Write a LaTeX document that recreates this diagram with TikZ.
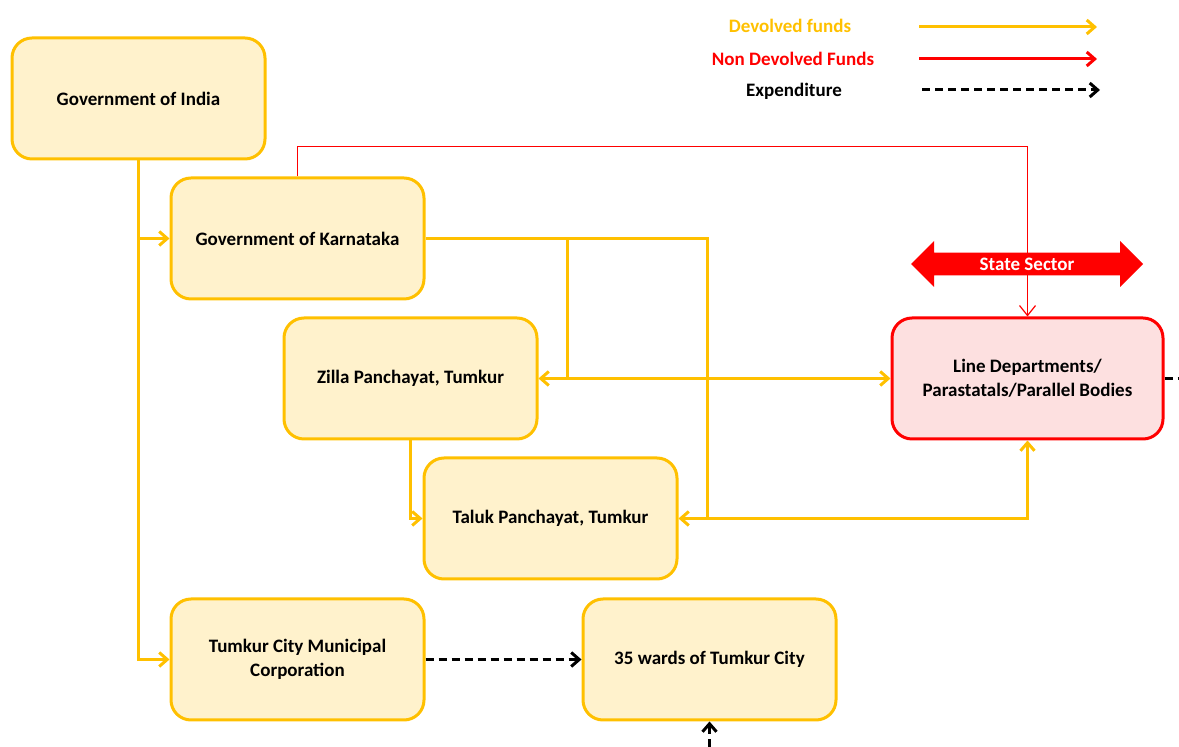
\documentclass[tikz,border=0pt]{standalone}
\usepackage{fontspec}
\setmainfont{Carlito}
\usetikzlibrary{arrows.meta}
\usetikzlibrary{shapes.arrows}
\definecolor{fundorange}{HTML}{FFC000}
\definecolor{boxfill}{HTML}{FFF2CC}
\definecolor{deptfill}{HTML}{FDE0E0}

\begin{document}
\begin{tikzpicture}[x=0.5pt,y=-0.5pt,
  box/.style={draw=fundorange,fill=boxfill,line width=1.5pt,rounded corners=10pt,
    minimum width=126.5pt,minimum height=60.5pt,align=center,
    font=\bfseries\fontsize{9.5}{12}\selectfont},
  deptbox/.style={box,draw=red,fill=deptfill,minimum width=135.5pt},
  fund/.style={draw=fundorange,line width=1.5pt,-{Straight Barb[length=4pt,width=7pt]}},
  nonfund/.style={color=red,line width=0.6pt,-{Straight Barb[length=5pt,width=8pt]}},
  spend/.style={draw=black,line width=1.5pt,dash pattern=on 4pt off 2.5pt,-{Straight Barb[length=4pt,width=7pt]}},
  legend/.style={font=\bfseries\fontsize{9.5}{11}\selectfont}]
  \useasboundingbox (0,0) rectangle (1179,747);
  % boxes
  \node [box] (india) at (138.5,98.5) {Government of India};
  \node [box] (karnataka) at (297.5,238.5) {Government of Karnataka};
  \node [box] (zilla) at (410.5,378.5) {Zilla Panchayat, Tumkur};
  \node [box] (taluk) at (550.5,518.5) {Taluk Panchayat, Tumkur};
  \node [box] (tcmc) at (297.5,659.5) {Tumkur City Municipal\\Corporation};
  \node [box] (wards) at (709.5,659.5) {35 wards of Tumkur City};
  \node [deptbox] (linedept) at (1027.5,378.5) {Line Departments/\\Parastatals/Parallel Bodies};
  % legend
  \node [legend,text=fundorange] (legfund) at (790,26) {Devolved funds};
  \node [legend,text=red] (legnon) at (793,59) {Non Devolved Funds};
  \node [legend] (legspend) at (794,91) {Expenditure};
  \coordinate (fundA) at (919,27);  \coordinate (fundB) at (1097,27);
  \coordinate (nonA) at (919,59);   \coordinate (nonB) at (1097,59);
  \coordinate (spendA) at (922,90); \coordinate (spendB) at (1100,90);
  \draw [fund] (fundA) -- (fundB);
  \draw [nonfund,line width=1.5pt,-{Straight Barb[length=4pt,width=7pt]}] (nonA) -- (nonB);
  \draw [spend] (spendA) -- (spendB);
  % junctions
  \coordinate (split1) at (567,378.5);
  \coordinate (split2) at (707,518.5);
  \coordinate (below) at (709.5,747);
  \coordinate (offright) at (1179,378.5);
  % devolved funds
  \draw [fund] (india.south) |- (karnataka.west);
  \draw [fund] (india.south) |- (tcmc.west);
  \draw [fund] (karnataka.east) -| (split2) -- (taluk.east);
  \draw [fund] (karnataka.east -| split1) -- (split1) -- (zilla.east);
  \draw [fund] (split1) -- (linedept.west);
  \draw [fund] (split2) -| (linedept.south);
  \draw [fund] (zilla.south) |- (taluk.west);
  % non devolved funds
  \draw [nonfund] (karnataka.north) -- ++(0,-30) -| (linedept.north);
  \node [double arrow,fill=red,text=white,font=\bfseries\fontsize{9.5}{11}\selectfont,
    minimum height=116pt,minimum width=23pt,inner sep=2pt,double arrow head extend=5.5pt]
    (sector) at (1027,264) {State Sector};
  % expenditure
  \draw [spend] (tcmc.east) -- (wards.west);
  \draw [spend] (below) -- (wards.south);
  \draw [spend,-] (linedept.east) -- (offright);
\end{tikzpicture}
\end{document}
